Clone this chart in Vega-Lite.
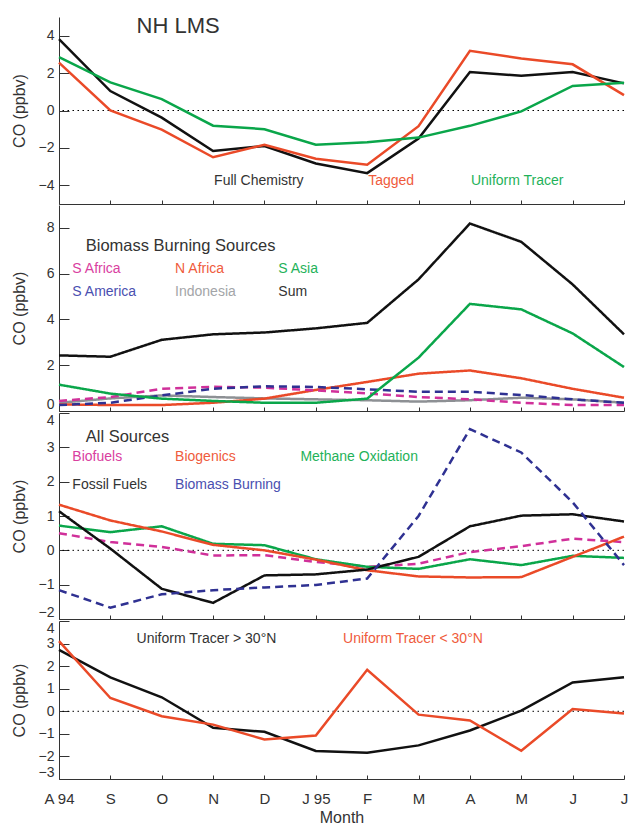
{
  "$schema": "https://vega.github.io/schema/vega-lite/v6.json",
  "padding": {"left": 11, "top": 15, "right": 5, "bottom": 2},
  "spacing": 0,
  "config": {
    "font": "Liberation Sans",
    "view": {"stroke": null},
    "axis": {"grid": false, "domainColor": "#333333", "tickColor": "#333333", "labelColor": "#333333", "titleColor": "#333333", "labelFont": "Liberation Sans", "titleFont": "Liberation Sans", "titleFontWeight": "normal", "domainWidth": 1, "tickWidth": 1, "labelOverlap": false, "tickCount": 30},
    "axisY": {"tickSize": -10, "labelFontSize": 14, "labelPadding": 15, "labelFlush": true, "labelOverlap": false, "minExtent": 22, "maxExtent": 22, "titleFontSize": 16, "titlePadding": 10},
    "axisX": {"tickSize": -4, "labelFlush": false},
    "line": {"strokeWidth": 2.5},
    "text": {"font": "Liberation Sans"}
  },
  "datasets": {
    "p1": [
      {"m":0,"s":"Full Chemistry","v":3.82},{"m":1,"s":"Full Chemistry","v":1.04},{"m":2,"s":"Full Chemistry","v":-0.38},{"m":3,"s":"Full Chemistry","v":-2.17},{"m":4,"s":"Full Chemistry","v":-1.9},{"m":5,"s":"Full Chemistry","v":-2.83},{"m":6,"s":"Full Chemistry","v":-3.35},{"m":7,"s":"Full Chemistry","v":-1.5},{"m":8,"s":"Full Chemistry","v":2.06},{"m":9,"s":"Full Chemistry","v":1.86},{"m":10,"s":"Full Chemistry","v":2.06},{"m":11,"s":"Full Chemistry","v":1.45},
      {"m":0,"s":"Tagged","v":2.56},{"m":1,"s":"Tagged","v":0.0},{"m":2,"s":"Tagged","v":-1.02},{"m":3,"s":"Tagged","v":-2.5},{"m":4,"s":"Tagged","v":-1.83},{"m":5,"s":"Tagged","v":-2.58},{"m":6,"s":"Tagged","v":-2.9},{"m":7,"s":"Tagged","v":-0.84},{"m":8,"s":"Tagged","v":3.19},{"m":9,"s":"Tagged","v":2.78},{"m":10,"s":"Tagged","v":2.47},{"m":11,"s":"Tagged","v":0.82},
      {"m":0,"s":"Uniform Tracer","v":2.85},{"m":1,"s":"Uniform Tracer","v":1.5},{"m":2,"s":"Uniform Tracer","v":0.61},{"m":3,"s":"Uniform Tracer","v":-0.81},{"m":4,"s":"Uniform Tracer","v":-1.0},{"m":5,"s":"Uniform Tracer","v":-1.83},{"m":6,"s":"Uniform Tracer","v":-1.7},{"m":7,"s":"Uniform Tracer","v":-1.45},{"m":8,"s":"Uniform Tracer","v":-0.82},{"m":9,"s":"Uniform Tracer","v":-0.05},{"m":10,"s":"Uniform Tracer","v":1.31},{"m":11,"s":"Uniform Tracer","v":1.49}
    ],
    "p1lab": [
      {"m":3.02,"v":-3.78,"s":"Full Chemistry"},{"m":6.02,"v":-3.78,"s":"Tagged"},{"m":8.02,"v":-3.78,"s":"Uniform Tracer"}
    ],
    "p2": [
      {"m":0,"s":"Indonesia","v":0.36},{"m":1,"s":"Indonesia","v":0.55},{"m":2,"s":"Indonesia","v":0.68},{"m":3,"s":"Indonesia","v":0.61},{"m":4,"s":"Indonesia","v":0.55},{"m":5,"s":"Indonesia","v":0.51},{"m":6,"s":"Indonesia","v":0.47},{"m":7,"s":"Indonesia","v":0.41},{"m":8,"s":"Indonesia","v":0.47},{"m":9,"s":"Indonesia","v":0.58},{"m":10,"s":"Indonesia","v":0.51},{"m":11,"s":"Indonesia","v":0.36},
      {"m":0,"s":"N Africa","v":0.29},{"m":1,"s":"N Africa","v":0.26},{"m":2,"s":"N Africa","v":0.26},{"m":3,"s":"N Africa","v":0.36},{"m":4,"s":"N Africa","v":0.54},{"m":5,"s":"N Africa","v":0.92},{"m":6,"s":"N Africa","v":1.27},{"m":7,"s":"N Africa","v":1.63},{"m":8,"s":"N Africa","v":1.77},{"m":9,"s":"N Africa","v":1.43},{"m":10,"s":"N Africa","v":0.97},{"m":11,"s":"N Africa","v":0.58},
      {"m":0,"s":"S Africa","v":0.44},{"m":1,"s":"S Africa","v":0.61},{"m":2,"s":"S Africa","v":0.97},{"m":3,"s":"S Africa","v":1.06},{"m":4,"s":"S Africa","v":1.02},{"m":5,"s":"S Africa","v":0.9},{"m":6,"s":"S Africa","v":0.77},{"m":7,"s":"S Africa","v":0.61},{"m":8,"s":"S Africa","v":0.51},{"m":9,"s":"S Africa","v":0.36},{"m":10,"s":"S Africa","v":0.26},{"m":11,"s":"S Africa","v":0.26},
      {"m":0,"s":"S America","v":0.26},{"m":1,"s":"S America","v":0.36},{"m":2,"s":"S America","v":0.68},{"m":3,"s":"S America","v":0.97},{"m":4,"s":"S America","v":1.08},{"m":5,"s":"S America","v":1.05},{"m":6,"s":"S America","v":0.95},{"m":7,"s":"S America","v":0.84},{"m":8,"s":"S America","v":0.84},{"m":9,"s":"S America","v":0.7},{"m":10,"s":"S America","v":0.51},{"m":11,"s":"S America","v":0.36},
      {"m":0,"s":"S Asia","v":1.15},{"m":1,"s":"S Asia","v":0.76},{"m":2,"s":"S Asia","v":0.54},{"m":3,"s":"S Asia","v":0.44},{"m":4,"s":"S Asia","v":0.36},{"m":5,"s":"S Asia","v":0.36},{"m":6,"s":"S Asia","v":0.54},{"m":7,"s":"S Asia","v":2.33},{"m":8,"s":"S Asia","v":4.68},{"m":9,"s":"S Asia","v":4.44},{"m":10,"s":"S Asia","v":3.39},{"m":11,"s":"S Asia","v":1.92},
      {"m":0,"s":"Sum","v":2.43},{"m":1,"s":"Sum","v":2.37},{"m":2,"s":"Sum","v":3.11},{"m":3,"s":"Sum","v":3.35},{"m":4,"s":"Sum","v":3.43},{"m":5,"s":"Sum","v":3.61},{"m":6,"s":"Sum","v":3.85},{"m":7,"s":"Sum","v":5.75},{"m":8,"s":"Sum","v":8.19},{"m":9,"s":"Sum","v":7.39},{"m":10,"s":"Sum","v":5.53},{"m":11,"s":"Sum","v":3.35}
    ],
    "p2lab": [
      {"m":0.26,"v":6.21,"s":"S Africa"},{"m":2.26,"v":6.21,"s":"N Africa"},{"m":4.27,"v":6.21,"s":"S Asia"},
      {"m":0.26,"v":5.21,"s":"S America"},{"m":2.26,"v":5.21,"s":"Indonesia"},{"m":4.27,"v":5.21,"s":"Sum"}
    ],
    "p3": [
      {"m":0,"s":"Biofuels","v":0.5},{"m":1,"s":"Biofuels","v":0.24},{"m":2,"s":"Biofuels","v":0.1},{"m":3,"s":"Biofuels","v":-0.15},{"m":4,"s":"Biofuels","v":-0.14},{"m":5,"s":"Biofuels","v":-0.34},{"m":6,"s":"Biofuels","v":-0.48},{"m":7,"s":"Biofuels","v":-0.39},{"m":8,"s":"Biofuels","v":-0.05},{"m":9,"s":"Biofuels","v":0.12},{"m":10,"s":"Biofuels","v":0.34},{"m":11,"s":"Biofuels","v":0.24},
      {"m":0,"s":"Methane Oxidation","v":0.72},{"m":1,"s":"Methane Oxidation","v":0.53},{"m":2,"s":"Methane Oxidation","v":0.7},{"m":3,"s":"Methane Oxidation","v":0.19},{"m":4,"s":"Methane Oxidation","v":0.15},{"m":5,"s":"Methane Oxidation","v":-0.26},{"m":6,"s":"Methane Oxidation","v":-0.48},{"m":7,"s":"Methane Oxidation","v":-0.54},{"m":8,"s":"Methane Oxidation","v":-0.26},{"m":9,"s":"Methane Oxidation","v":-0.43},{"m":10,"s":"Methane Oxidation","v":-0.16},{"m":11,"s":"Methane Oxidation","v":-0.22},
      {"m":0,"s":"Biogenics","v":1.33},{"m":1,"s":"Biogenics","v":0.87},{"m":2,"s":"Biogenics","v":0.55},{"m":3,"s":"Biogenics","v":0.16},{"m":4,"s":"Biogenics","v":0.0},{"m":5,"s":"Biogenics","v":-0.27},{"m":6,"s":"Biogenics","v":-0.58},{"m":7,"s":"Biogenics","v":-0.76},{"m":8,"s":"Biogenics","v":-0.79},{"m":9,"s":"Biogenics","v":-0.78},{"m":10,"s":"Biogenics","v":-0.19},{"m":11,"s":"Biogenics","v":0.4},
      {"m":0,"s":"Fossil Fuels","v":1.14},{"m":1,"s":"Fossil Fuels","v":0.05},{"m":2,"s":"Fossil Fuels","v":-1.12},{"m":3,"s":"Fossil Fuels","v":-1.53},{"m":4,"s":"Fossil Fuels","v":-0.73},{"m":5,"s":"Fossil Fuels","v":-0.7},{"m":6,"s":"Fossil Fuels","v":-0.56},{"m":7,"s":"Fossil Fuels","v":-0.19},{"m":8,"s":"Fossil Fuels","v":0.7},{"m":9,"s":"Fossil Fuels","v":1.01},{"m":10,"s":"Fossil Fuels","v":1.05},{"m":11,"s":"Fossil Fuels","v":0.84},
      {"m":0,"s":"Biomass Burning","v":-1.16},{"m":1,"s":"Biomass Burning","v":-1.67},{"m":2,"s":"Biomass Burning","v":-1.28},{"m":3,"s":"Biomass Burning","v":-1.16},{"m":4,"s":"Biomass Burning","v":-1.08},{"m":5,"s":"Biomass Burning","v":-1.01},{"m":6,"s":"Biomass Burning","v":-0.82},{"m":7,"s":"Biomass Burning","v":1.0},{"m":8,"s":"Biomass Burning","v":3.53},{"m":9,"s":"Biomass Burning","v":2.85},{"m":10,"s":"Biomass Burning","v":1.4},{"m":11,"s":"Biomass Burning","v":-0.43}
    ],
    "p3lab": [
      {"m":0.26,"v":2.71,"s":"Biofuels"},{"m":2.26,"v":2.71,"s":"Biogenics"},{"m":4.7,"v":2.71,"s":"Methane Oxidation"},
      {"m":0.26,"v":1.91,"s":"Fossil Fuels"},{"m":2.26,"v":1.91,"s":"Biomass Burning"}
    ],
    "p4": [
      {"m":0,"s":"Uniform Tracer > 30°N","v":2.72},{"m":1,"s":"Uniform Tracer > 30°N","v":1.5},{"m":2,"s":"Uniform Tracer > 30°N","v":0.62},{"m":3,"s":"Uniform Tracer > 30°N","v":-0.73},{"m":4,"s":"Uniform Tracer > 30°N","v":-0.91},{"m":5,"s":"Uniform Tracer > 30°N","v":-1.76},{"m":6,"s":"Uniform Tracer > 30°N","v":-1.84},{"m":7,"s":"Uniform Tracer > 30°N","v":-1.51},{"m":8,"s":"Uniform Tracer > 30°N","v":-0.85},{"m":9,"s":"Uniform Tracer > 30°N","v":0.03},{"m":10,"s":"Uniform Tracer > 30°N","v":1.28},{"m":11,"s":"Uniform Tracer > 30°N","v":1.51},
      {"m":0,"s":"Uniform Tracer < 30°N","v":3.11},{"m":1,"s":"Uniform Tracer < 30°N","v":0.59},{"m":2,"s":"Uniform Tracer < 30°N","v":-0.22},{"m":3,"s":"Uniform Tracer < 30°N","v":-0.59},{"m":4,"s":"Uniform Tracer < 30°N","v":-1.25},{"m":5,"s":"Uniform Tracer < 30°N","v":-1.07},{"m":6,"s":"Uniform Tracer < 30°N","v":1.84},{"m":7,"s":"Uniform Tracer < 30°N","v":-0.15},{"m":8,"s":"Uniform Tracer < 30°N","v":-0.41},{"m":9,"s":"Uniform Tracer < 30°N","v":-1.75},{"m":10,"s":"Uniform Tracer < 30°N","v":0.1},{"m":11,"s":"Uniform Tracer < 30°N","v":-0.1}
    ],
    "p4lab": [
      {"m":1.51,"v":3.19,"s":"Uniform Tracer > 30°N"},{"m":5.53,"v":3.19,"s":"Uniform Tracer < 30°N"}
    ]
  },
  "vconcat": [
    {
      "width": 565, "height": 187,
      "layer": [
        {"data": {"values": [{}]}, "mark": {"type": "rule", "color": "#000000", "strokeWidth": 1, "strokeDash": [1.5, 3.5]}, "encoding": {"y": {"datum": 0}}},
        {"data": {"name": "p1"}, "mark": {"type": "line"},
         "encoding": {
           "x": {"field": "m", "type": "quantitative", "scale": {"domain": [0, 11], "nice": false, "zero": false}, "axis": {"labels": false, "title": null, "tickCount": 30, "values": [0,1,2,3,4,5,6,7,8,9,10,11]}},
           "y": {"field": "v", "type": "quantitative", "scale": {"domain": [-5, 5], "nice": false, "zero": false}, "axis": {"values": [-4,-2,0,2,4], "format": "d", "tickCount": 30, "labelOverlap": false, "title": "CO (ppbv)"}},
           "color": {"field": "s", "type": "nominal", "legend": null, "scale": {"domain": ["Full Chemistry", "Tagged", "Uniform Tracer"], "range": ["#111111", "#ea4a28", "#0aa64a"]}}
         }},
        {"data": {"name": "p1lab"}, "mark": {"type": "text", "align": "left", "baseline": "middle", "fontSize": 14},
         "encoding": {
           "x": {"field": "m", "type": "quantitative"},
           "y": {"field": "v", "type": "quantitative"},
           "text": {"field": "s"},
           "fill": {"field": "s", "type": "nominal", "legend": null, "scale": {"domain": ["Full Chemistry", "Tagged", "Uniform Tracer"], "range": ["#333333", "#ef5b3c", "#1fb25a"]}}
         }},
        {"data": {"values": [{}]}, "mark": {"type": "text", "align": "left", "baseline": "middle", "fontSize": 22, "color": "#333333"},
         "encoding": {"x": {"datum": 1.51}, "y": {"datum": 4.5}, "text": {"value": "NH LMS"}}}
      ]
    },
    {
      "width": 565, "height": 206,
      "layer": [
        {"data": {"name": "p2"}, "mark": {"type": "line"},
         "encoding": {
           "x": {"field": "m", "type": "quantitative", "scale": {"domain": [0, 11], "nice": false, "zero": false}, "axis": {"labels": false, "title": null, "tickCount": 30, "values": [0,1,2,3,4,5,6,7,8,9,10,11]}},
           "y": {"field": "v", "type": "quantitative", "scale": {"domain": [0, 9], "nice": false, "zero": false}, "axis": {"values": [0,2,4,6,8], "format": "d", "tickCount": 30, "labelOverlap": false, "title": "CO (ppbv)"}},
           "color": {"field": "s", "type": "nominal", "legend": null, "scale": {"domain": ["Indonesia", "N Africa", "S Africa", "S America", "S Asia", "Sum"], "range": ["#8d9094", "#ea4a28", "#d0309a", "#2f3192", "#0aa64a", "#111111"]}},
           "strokeDash": {"field": "s", "type": "nominal", "legend": null, "scale": {"domain": ["Indonesia", "N Africa", "S Africa", "S America", "S Asia", "Sum"], "range": [[1, 0], [1, 0], [8, 5], [8, 5], [1, 0], [1, 0]]}}
         }},
        {"data": {"name": "p2lab"}, "mark": {"type": "text", "align": "left", "baseline": "middle", "fontSize": 14},
         "encoding": {
           "x": {"field": "m", "type": "quantitative"},
           "y": {"field": "v", "type": "quantitative"},
           "text": {"field": "s"},
           "fill": {"field": "s", "type": "nominal", "legend": null, "scale": {"domain": ["Indonesia", "N Africa", "S Africa", "S America", "S Asia", "Sum"], "range": ["#a3a5a8", "#ef5b3c", "#d9409f", "#4a4fb0", "#1fb25a", "#333333"]}}
         }},
        {"data": {"values": [{}]}, "mark": {"type": "text", "align": "left", "baseline": "middle", "fontSize": 16.5, "color": "#333333"},
         "encoding": {"x": {"datum": 0.52}, "y": {"datum": 7.2}, "text": {"value": "Biomass Burning Sources"}}}
      ]
    },
    {
      "width": 565, "height": 206,
      "layer": [
        {"data": {"values": [{}]}, "mark": {"type": "rule", "color": "#000000", "strokeWidth": 1, "strokeDash": [1.5, 3.5]}, "encoding": {"y": {"datum": 0}}},
        {"data": {"name": "p3"}, "mark": {"type": "line"},
         "encoding": {
           "x": {"field": "m", "type": "quantitative", "scale": {"domain": [0, 11], "nice": false, "zero": false}, "axis": {"labels": false, "title": null, "tickCount": 30, "values": [0,1,2,3,4,5,6,7,8,9,10,11]}},
           "y": {"field": "v", "type": "quantitative", "scale": {"domain": [-2, 4], "nice": false, "zero": false}, "axis": {"values": [-2,-1,0,1,2,3,4], "format": "d", "tickCount": 30, "labelOverlap": false, "title": "CO (ppbv)"}},
           "color": {"field": "s", "type": "nominal", "legend": null, "scale": {"domain": ["Biofuels", "Methane Oxidation", "Biogenics", "Fossil Fuels", "Biomass Burning"], "range": ["#d0309a", "#0aa64a", "#ea4a28", "#111111", "#2f3192"]}},
           "strokeDash": {"field": "s", "type": "nominal", "legend": null, "scale": {"domain": ["Biofuels", "Methane Oxidation", "Biogenics", "Fossil Fuels", "Biomass Burning"], "range": [[8, 5], [1, 0], [1, 0], [1, 0], [8, 5]]}}
         }},
        {"data": {"name": "p3lab"}, "mark": {"type": "text", "align": "left", "baseline": "middle", "fontSize": 14},
         "encoding": {
           "x": {"field": "m", "type": "quantitative"},
           "y": {"field": "v", "type": "quantitative"},
           "text": {"field": "s"},
           "fill": {"field": "s", "type": "nominal", "legend": null, "scale": {"domain": ["Biofuels", "Methane Oxidation", "Biogenics", "Fossil Fuels", "Biomass Burning"], "range": ["#d9409f", "#1fb25a", "#ef5b3c", "#333333", "#4a4fb0"]}}
         }},
        {"data": {"values": [{}]}, "mark": {"type": "text", "align": "left", "baseline": "middle", "fontSize": 16.5, "color": "#333333"},
         "encoding": {"x": {"datum": 0.52}, "y": {"datum": 3.31}, "text": {"value": "All Sources"}}}
      ]
    },
    {
      "width": 565, "height": 158,
      "layer": [
        {"data": {"values": [{}]}, "mark": {"type": "rule", "color": "#000000", "strokeWidth": 1, "strokeDash": [1.5, 3.5]}, "encoding": {"y": {"datum": 0}}},
        {"data": {"name": "p4"}, "mark": {"type": "line"},
         "encoding": {
           "x": {"field": "m", "type": "quantitative", "scale": {"domain": [0, 11], "nice": false, "zero": false}, "axis": {"values": [0,1,2,3,4,5,6,7,8,9,10,11], "tickCount": 30, "labelExpr": "['A 94','S','O','N','D','J 95','F','M','A','M','J','J'][datum.value]", "labelFontSize": 15, "labelPadding": 16, "title": "Month", "titleFontSize": 16, "titlePadding": 3}},
           "y": {"field": "v", "type": "quantitative", "scale": {"domain": [-3, 4], "nice": false, "zero": false}, "axis": {"values": [-3,-2,-1,0,1,2,3,4], "format": "d", "tickCount": 30, "labelOverlap": false, "title": "CO (ppbv)"}},
           "color": {"field": "s", "type": "nominal", "legend": null, "scale": {"domain": ["Uniform Tracer > 30°N", "Uniform Tracer < 30°N"], "range": ["#111111", "#ea4a28"]}}
         }},
        {"data": {"name": "p4lab"}, "mark": {"type": "text", "align": "left", "baseline": "middle", "fontSize": 14},
         "encoding": {
           "x": {"field": "m", "type": "quantitative"},
           "y": {"field": "v", "type": "quantitative"},
           "text": {"field": "s"},
           "fill": {"field": "s", "type": "nominal", "legend": null, "scale": {"domain": ["Uniform Tracer > 30°N", "Uniform Tracer < 30°N"], "range": ["#333333", "#ef5b3c"]}}
         }}
      ]
    }
  ],
  "resolve": {"scale": {"x": "independent", "y": "independent", "color": "independent", "fill": "independent", "strokeDash": "independent"}}
}
